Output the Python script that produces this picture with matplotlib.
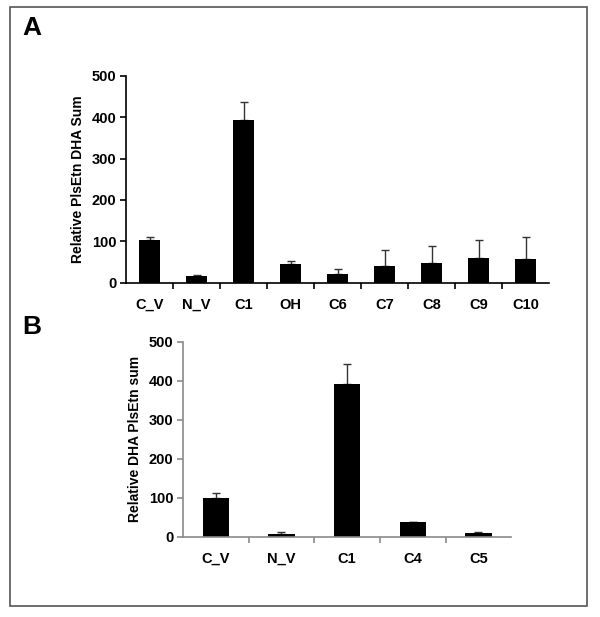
import matplotlib
matplotlib.use("Agg")
import matplotlib.pyplot as plt
from matplotlib.patches import Rectangle
import numpy as np

plt.rcParams["font.family"] = ["Liberation Sans", "DejaVu Sans"]
plt.rcParams["font.weight"] = "bold"

# panel A
labels_a = ["C_V", "N_V", "C1", "OH", "C6", "C7", "C8", "C9", "C10"]
values_a = [102, 16, 394, 44, 21, 41, 47, 60, 56]
errors_a = [9, 2, 44, 9, 13, 37, 42, 42, 54]

# panel B
labels_b = ["C_V", "N_V", "C1", "C4", "C5"]
values_b = [100, 8, 393, 39, 10]
errors_b = [12, 5, 50, 0, 3]


def draw_panel(ax, labels, values, errors, ylabel, axis_color, bar_width):
    x = np.arange(len(labels))
    ax.bar(x, values, width=bar_width, color="black", zorder=2)
    ax.errorbar(x, values, yerr=[np.zeros(len(errors)), errors], fmt="none",
                ecolor="#333333", elinewidth=1, capsize=3, capthick=1, zorder=1)
    ax.set_xlim(-0.5, len(labels) - 0.5)
    ax.set_ylim(0, 500)
    ax.set_yticks([0, 100, 200, 300, 400, 500])
    ax.set_xticks(x)
    ax.set_xticklabels(labels, fontsize=10.5, fontweight="bold")
    ax.set_xticks(np.arange(len(labels) - 1) + 0.5, minor=True)
    ax.tick_params(axis="x", which="major", length=0, pad=11)
    ax.tick_params(axis="x", which="minor", length=4, width=1.2, color=axis_color, direction="out")
    ax.tick_params(axis="y", length=4, width=1.2, color=axis_color, labelsize=10.5, pad=3)
    for lbl in ax.get_yticklabels():
        lbl.set_fontweight("bold")
    for side in ["top", "right"]:
        ax.spines[side].set_visible(False)
    for side in ["left", "bottom"]:
        ax.spines[side].set_color(axis_color)
        ax.spines[side].set_linewidth(1.2)
    ax.set_ylabel(ylabel, fontsize=10, fontweight="bold", labelpad=5)


fig = plt.figure(figsize=(6, 6.17), dpi=100)

ax_a = fig.add_axes([0.21, 0.542, 0.705, 0.335])
draw_panel(ax_a, labels_a, values_a, errors_a, "Relative PlsEtn DHA Sum", "black", 0.45)

ax_b = fig.add_axes([0.305, 0.130, 0.547, 0.316])
draw_panel(ax_b, labels_b, values_b, errors_b, "Relative DHA PlsEtn sum", "#8a8a8a", 0.4)

fig.text(0.037, 0.955, "A", fontsize=19, fontweight="bold", va="center")
fig.text(0.037, 0.47, "B", fontsize=19, fontweight="bold", va="center")

fig.add_artist(Rectangle((10 / 600, 1 - 606 / 617), 577 / 600, 599 / 617,
                         transform=fig.transFigure, fill=False,
                         edgecolor="#555555", linewidth=1.2))

fig.savefig("out.png", dpi=100)
